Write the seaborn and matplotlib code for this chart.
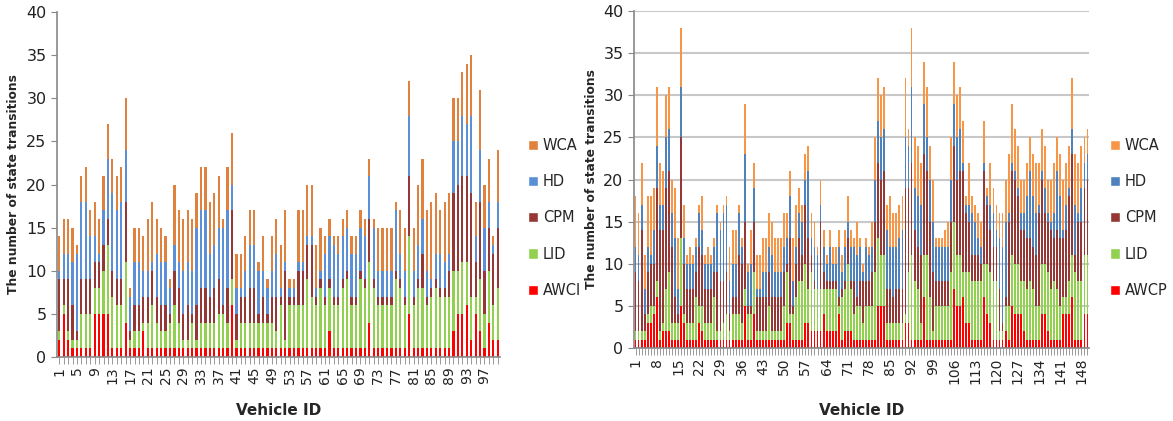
import numpy as np
import matplotlib
matplotlib.use("Agg")
import matplotlib.pyplot as plt
from matplotlib.patches import Patch
import seaborn as sns

# stacked bars, values are the cumulative heights read off each stack
# (AWCI/AWCP at the bottom, then +LID, +CPM, +HD, top = total incl. WCA)

# ---- left chart: 100 vehicles ----
left_awci = [2, 5, 2, 1, 1, 1, 1, 1, 5, 5, 5, 5, 1, 1, 1, 4, 1, 1, 1, 3,
             1, 1, 1, 1, 1, 1, 1, 1, 1, 1, 1, 1, 1, 1, 1, 1, 1, 1, 1, 6,
             1, 1, 1, 1, 1, 1, 1, 1, 1, 1, 1, 1, 1, 1, 1, 1, 1, 1, 1, 1,
             1, 3, 1, 1, 1, 1, 1, 1, 1, 1, 4, 1, 1, 1, 1, 1, 1, 1, 1, 5,
             1, 1, 1, 1, 1, 1, 1, 1, 1, 3, 5, 5, 6, 2, 5, 3, 1, 4, 2, 2]
left_lid = [3, 6, 3, 2, 2, 5, 5, 5, 8, 8, 10, 13, 7, 6, 6, 11, 2, 3, 3, 4,
            4, 6, 4, 3, 3, 4, 6, 4, 2, 2, 4, 2, 4, 4, 4, 4, 5, 5, 4, 9,
            2, 4, 4, 4, 4, 4, 4, 4, 4, 3, 6, 2, 6, 6, 6, 6, 9, 7, 6, 8,
            6, 8, 6, 6, 8, 9, 6, 6, 9, 8, 11, 8, 6, 6, 6, 6, 9, 8, 6, 14,
            6, 8, 8, 6, 7, 8, 7, 7, 7, 10, 10, 11, 11, 7, 7, 9, 5, 10, 6, 8]
left_cpm = [9, 9, 9, 6, 3, 9, 9, 9, 11, 11, 13, 16, 10, 9, 9, 18, 3, 6, 6, 7,
            7, 10, 7, 6, 6, 5, 10, 8, 5, 6, 5, 6, 8, 8, 7, 8, 9, 6, 8, 17,
            5, 7, 7, 8, 8, 5, 7, 5, 7, 7, 7, 10, 7, 7, 10, 10, 13, 13, 7, 9,
            7, 9, 7, 7, 9, 10, 7, 7, 10, 9, 16, 9, 7, 7, 7, 7, 10, 9, 7, 21,
            7, 9, 12, 7, 8, 9, 8, 8, 10, 19, 20, 21, 21, 19, 11, 18, 10, 15, 12, 15]
left_hd = [10, 12, 12, 11, 12, 18, 18, 14, 14, 12, 17, 23, 19, 17, 18, 24, 7, 11, 11, 10,
           10, 11, 12, 11, 11, 8, 13, 11, 10, 11, 10, 15, 17, 17, 12, 13, 15, 15, 17, 20,
           8, 8, 10, 13, 13, 10, 10, 8, 10, 12, 8, 11, 8, 8, 11, 11, 14, 14, 8, 10,
           12, 14, 13, 12, 14, 15, 12, 12, 15, 14, 21, 15, 10, 10, 10, 10, 17, 12, 10, 28,
           10, 13, 16, 10, 9, 12, 12, 11, 12, 25, 25, 28, 27, 28, 14, 24, 15, 18, 13, 18]
left_total = [14, 16, 16, 15, 13, 21, 22, 17, 18, 16, 21, 27, 23, 21, 22, 30, 8, 15, 15, 14,
              16, 18, 16, 15, 14, 9, 20, 17, 16, 17, 16, 19, 22, 22, 18, 19, 21, 16, 22, 26,
              12, 12, 14, 17, 17, 11, 14, 9, 14, 16, 13, 17, 9, 9, 17, 17, 20, 20, 13, 15,
              14, 16, 14, 14, 16, 17, 14, 14, 17, 16, 23, 16, 15, 15, 15, 15, 18, 17, 15, 32,
              15, 20, 23, 17, 18, 19, 17, 18, 19, 30, 30, 33, 34, 35, 18, 31, 20, 23, 14, 24]

# ---- right chart: 150 vehicles ----
right_awcp = [1, 1, 1, 1, 3, 3, 4, 6, 1, 2, 2, 2, 1, 1, 1, 5, 3, 1, 1, 1,
              1, 3, 2, 1, 1, 1, 1, 1, 1, 1, 1, 1, 1, 1, 1, 1, 5, 1, 1, 4,
              1, 1, 1, 1, 1, 1, 1, 1, 1, 1, 3, 3, 1, 1, 1, 1, 3, 3, 2, 2,
              2, 2, 4, 2, 2, 2, 2, 4, 1, 2, 2, 2, 1, 1, 1, 1, 1, 1, 1, 1,
              5, 5, 5, 1, 1, 1, 1, 1, 1, 3, 3, 1, 1, 1, 1, 6, 1, 1, 1, 1,
              1, 1, 1, 1, 1, 7, 5, 5, 6, 3, 3, 1, 1, 1, 1, 6, 4, 3, 1, 1,
              1, 1, 2, 1, 5, 4, 4, 4, 2, 1, 1, 1, 1, 1, 4, 4, 2, 1, 1, 1,
              1, 4, 4, 4, 6, 1, 1, 1, 4, 4]
right_lid = [2, 2, 2, 2, 4, 5, 5, 8, 2, 3, 7, 9, 3, 3, 3, 13, 4, 3, 3, 3,
             6, 5, 5, 3, 3, 3, 6, 2, 2, 3, 4, 2, 4, 4, 4, 3, 7, 4, 4, 9,
             2, 2, 2, 2, 5, 2, 2, 2, 2, 5, 9, 4, 4, 6, 8, 8, 10, 7, 9, 7,
             7, 7, 7, 7, 7, 7, 7, 5, 6, 7, 10, 7, 4, 5, 5, 3, 5, 5, 5, 9,
             13, 11, 11, 3, 3, 3, 3, 3, 3, 4, 9, 11, 8, 7, 3, 11, 11, 6, 2, 5,
             5, 5, 5, 5, 9, 15, 11, 11, 9, 9, 9, 8, 8, 8, 8, 10, 10, 9, 8, 8,
             2, 2, 5, 5, 11, 10, 10, 8, 8, 7, 8, 7, 5, 5, 10, 10, 9, 7, 8, 7,
             5, 6, 6, 8, 11, 9, 8, 8, 11, 11]
right_cpm = [9, 8, 14, 4, 9, 10, 10, 19, 14, 14, 19, 21, 12, 6, 4, 25, 10, 7, 7, 7,
             9, 12, 11, 7, 7, 7, 9, 9, 8, 8, 9, 4, 6, 6, 11, 10, 15, 5, 5, 15,
             6, 6, 6, 6, 9, 6, 6, 6, 6, 9, 10, 13, 5, 10, 13, 11, 17, 13, 11, 8,
             7, 15, 9, 8, 8, 8, 8, 6, 7, 8, 13, 8, 8, 6, 8, 8, 8, 8, 9, 15,
             22, 20, 21, 7, 7, 6, 7, 7, 7, 19, 19, 22, 14, 12, 11, 23, 21, 15, 9, 8,
             8, 8, 8, 8, 15, 24, 20, 21, 21, 16, 15, 11, 11, 11, 10, 21, 17, 14, 12, 12,
             7, 3, 6, 15, 21, 20, 18, 14, 14, 13, 13, 12, 11, 16, 20, 16, 15, 14, 13, 14,
             13, 13, 14, 18, 23, 11, 15, 15, 19, 20]
right_hd = [12, 11, 17, 7, 12, 11, 14, 24, 17, 17, 25, 26, 16, 13, 7, 31, 13, 10, 10, 10,
            12, 16, 14, 10, 10, 10, 12, 16, 14, 16, 17, 8, 10, 10, 16, 12, 23, 9, 10, 19,
            7, 7, 9, 9, 12, 11, 9, 9, 9, 12, 13, 18, 8, 12, 16, 15, 20, 21, 13, 12,
            11, 17, 12, 10, 12, 10, 10, 12, 9, 12, 15, 12, 12, 11, 12, 9, 12, 11, 12, 20,
            27, 25, 26, 14, 12, 12, 12, 13, 14, 25, 24, 31, 19, 18, 17, 29, 25, 20, 15, 12,
            12, 12, 12, 12, 20, 29, 25, 26, 22, 17, 17, 16, 15, 13, 12, 22, 18, 17, 16, 14,
            13, 12, 15, 16, 22, 21, 19, 16, 16, 18, 21, 18, 16, 17, 21, 19, 16, 15, 16, 21,
            18, 14, 17, 19, 26, 17, 16, 19, 22, 23]
right_total = [18, 16, 22, 11, 18, 18, 19, 31, 22, 21, 30, 31, 20, 19, 13, 38, 17, 11, 12, 11,
               13, 17, 18, 11, 12, 11, 13, 17, 15, 17, 18, 12, 14, 14, 17, 13, 29, 10, 14, 22,
               11, 11, 13, 13, 16, 15, 13, 13, 13, 16, 16, 21, 13, 17, 19, 17, 23, 24, 16, 15,
               12, 20, 14, 11, 14, 12, 12, 14, 11, 14, 18, 14, 13, 15, 13, 10, 13, 12, 15, 25,
               32, 30, 31, 17, 18, 16, 16, 17, 18, 32, 26, 38, 25, 24, 22, 34, 31, 24, 20, 13,
               13, 13, 14, 15, 25, 34, 30, 31, 27, 18, 22, 18, 17, 16, 15, 27, 19, 22, 19, 17,
               16, 16, 20, 23, 29, 26, 24, 20, 20, 22, 25, 23, 22, 22, 26, 24, 20, 20, 22, 25,
               23, 20, 22, 24, 32, 23, 22, 24, 25, 26]

left_ids = np.arange(1, len(left_total) + 1)
right_ids = np.arange(1, len(right_total) + 1)

left_colors = {"WCA": "#E0823D", "HD": "#5B8FD8", "CPM": "#953735",
               "LID": "#92D050", "AWCI": "#FF0000"}
right_colors = {"WCA": "#F79646", "HD": "#4F81BD", "CPM": "#953735",
                "LID": "#92D050", "AWCP": "#FF0000"}

sns.set_style("white")
plt.rcParams['font.family'] = ['DejaVu Sans']

fig = plt.figure(figsize=(11.73, 4.21), dpi=100)
ax1 = fig.add_axes([57 / 1173, 1 - 357 / 421, 443 / 1173, 345 / 421])
ax2 = fig.add_axes([634 / 1173, 1 - 348 / 421, 455 / 1173, 337 / 421])


def draw_stack(ax, ids, layers, colors, w):
    # draw tallest first so each lower level paints over it
    for name, vals in layers:
        sns.barplot(x=ids, y=vals, color=colors[name], width=w,
                    saturation=1, ax=ax, linewidth=0)


draw_stack(ax1, left_ids,
           [("WCA", left_total), ("HD", left_hd), ("CPM", left_cpm),
            ("LID", left_lid), ("AWCI", left_awci)], left_colors, 0.5)
draw_stack(ax2, right_ids,
           [("WCA", right_total), ("HD", right_hd), ("CPM", right_cpm),
            ("LID", right_lid), ("AWCP", right_awcp)], right_colors, 0.62)


def style_axis(ax, ids, step, xlab_y, ylab_x, grid):
    n = len(ids)
    ax.set_xlim(-0.5, n - 0.5)
    ax.set_ylim(0, 40)
    ax.set_yticks(range(0, 41, 5))
    ax.set_xticks(range(n))
    ax.set_xticklabels([str(i) if (i - 1) % step == 0 else "" for i in ids],
                       rotation=90, fontsize=10)
    ax.tick_params(axis="y", labelsize=11.5, length=4, color="#888888",
                   left=True, labelcolor="#222222")
    ax.tick_params(axis="x", length=5, color="#999999", bottom=True,
                   labelcolor="#222222", pad=2, width=0.7)
    for s in ["top", "right"]:
        ax.spines[s].set_visible(False)
    for s in ["left", "bottom"]:
        ax.spines[s].set_color("#888888")
        ax.spines[s].set_linewidth(1.2)
    if grid:
        ax.yaxis.grid(True, color="#C8C8C8", linewidth=1.5)
        ax.set_axisbelow(True)
    ax.set_xlabel("Vehicle ID", fontsize=11, fontweight="bold")
    ax.set_ylabel("The number of state transitions", fontsize=8.8,
                  fontweight="bold")
    ax.xaxis.set_label_coords(0.5, xlab_y)
    ax.yaxis.set_label_coords(ylab_x, 0.5)


style_axis(ax1, left_ids, 4, -0.133, -0.0835, False)
style_axis(ax2, right_ids, 7, -0.163, -0.079, True)


def add_legend(colors, x_px):
    handles = [Patch(facecolor=c, label=k) for k, c in colors.items()]
    fig.legend(handles=handles, loc="center left",
               bbox_to_anchor=(x_px / 1173, 1 - 218 / 421),
               frameon=False, fontsize=10.5, handlelength=0.65,
               handleheight=0.7, handletextpad=0.35, labelspacing=1.45,
               borderpad=0.2)


add_legend(left_colors, 518)
add_legend(right_colors, 1100)

fig.savefig("out.png", dpi=100)
